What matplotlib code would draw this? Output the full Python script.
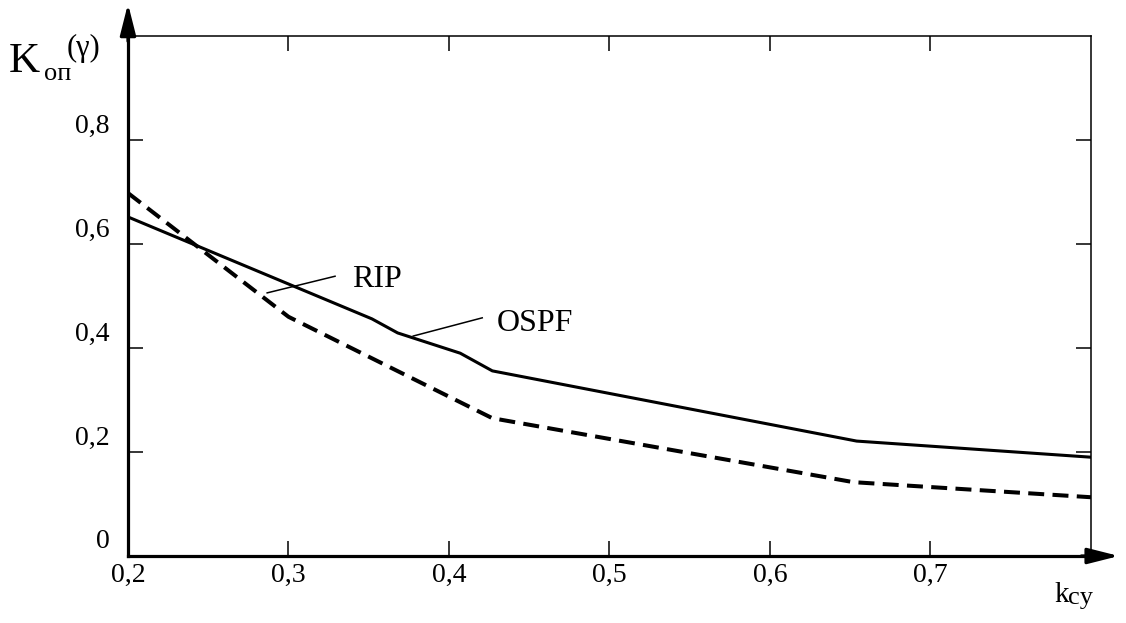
import matplotlib
matplotlib.use("Agg")
import matplotlib.pyplot as plt
from matplotlib.transforms import ScaledTranslation

plt.rcParams['font.family'] = ['Liberation Serif', 'DejaVu Serif']
plt.rcParams['lines.scale_dashes'] = False

# k_cy values and K_op for the two protocols
x_solid = [0.2, 0.352, 0.368, 0.407, 0.427, 0.654, 0.8]
y_solid = [0.652, 0.456, 0.429, 0.390, 0.356, 0.221, 0.190]

x_dash = [0.2, 0.3, 0.427, 0.652, 0.8]
y_dash = [0.698, 0.46, 0.265, 0.142, 0.113]

xticks = [0.2, 0.3, 0.4, 0.5, 0.6, 0.7]
yticks = [0, 0.2, 0.4, 0.6, 0.8]
xlabels = ['0,2', '0,3', '0,4', '0,5', '0,6', '0,7']
ylabels = ['0', '0,2', '0,4', '0,6', '0,8']

fig = plt.figure(figsize=(11.26, 6.23), dpi=100)
ax = fig.add_axes([128/1126, 1 - 556/623, 963/1126, 520/623])

ax.plot(x_solid, y_solid, color='black', lw=2.2, solid_joinstyle='round')
ax.plot(x_dash, y_dash, color='black', lw=2.9, dashes=(11.5, 6))

ax.set_xlim(0.2, 0.8)
ax.set_ylim(0, 1.0)

ax.set_xticks(xticks)
ax.set_xticklabels(xlabels, fontsize=20)
ax.set_yticks(yticks)
ax.set_yticklabels(ylabels, fontsize=20)
ax.tick_params(direction='in', length=10.5, width=1.1, top=True, right=True,
               color='black')
ax.tick_params(axis='y', pad=13)
ax.tick_params(axis='x', pad=5)

# y tick labels sit a little above their ticks
off = ScaledTranslation(0, 17/100, fig.dpi_scale_trans)
for lbl in ax.get_yticklabels():
    lbl.set_transform(lbl.get_transform() + off)

ax.spines['left'].set_linewidth(2.3)
ax.spines['bottom'].set_linewidth(2.3)
ax.spines['top'].set_linewidth(1.1)
ax.spines['right'].set_linewidth(1.1)

# axis arrows
arrow = dict(arrowstyle='-|>,head_length=0.95,head_width=0.24',
             mutation_scale=20, lw=2.3, color='black', shrinkA=0, shrinkB=0)
ax.annotate('', xy=(0, 1.062), xytext=(0, 0.99), xycoords='axes fraction',
            arrowprops=arrow, annotation_clip=False)
ax.annotate('', xy=(1.029, 0), xytext=(0.99, 0), xycoords='axes fraction',
            arrowprops=arrow, annotation_clip=False)

# curve labels with leader lines
ax.plot([0.329, 0.2867], [0.538, 0.506], color='black', lw=1.1)
ax.text(0.3397, 0.517, 'RIP', fontsize=23, va='baseline', ha='left')
ax.plot([0.4207, 0.3777], [0.458, 0.423], color='black', lw=1.1)
ax.text(0.430, 0.433, 'OSPF', fontsize=23, va='baseline', ha='left')

# axis titles
fig.text(9/1126, 1 - 72/623, 'K', fontsize=31, va='baseline', ha='left')
fig.text(44/1126, 1 - 80/623, 'оп', fontsize=19, va='baseline', ha='left')
fig.text(67/1126, 1 - 56/623, '(γ)', fontsize=22, va='baseline', ha='left')

fig.text(1054/1126, 1 - 602/623, 'k', fontsize=21, va='baseline', ha='left')
fig.text(1068/1126, 1 - 604/623, 'cy', fontsize=19, va='baseline', ha='left')

fig.savefig('out.png', dpi=100)
